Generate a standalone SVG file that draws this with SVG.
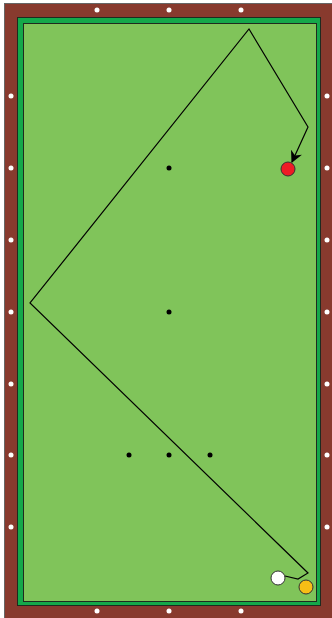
<svg xmlns="http://www.w3.org/2000/svg" width="332" height="618" viewBox="0 0 332 618">
<defs>
<style>
.rail{fill:#883a2e;stroke:#666;stroke-width:1}
.cushion{fill:#14a84a;stroke:#1f2a1f;stroke-width:1}
.felt{fill:#80c45a;stroke:#1f2a1f;stroke-width:1}
.diamond{fill:#fff}
.spot{fill:#000}
.path{fill:none;stroke:#000;stroke-width:1.2}
.ball{stroke:#333;stroke-width:1}
</style>
<marker id="arr" viewBox="0 0 10 10" refX="9" refY="5" markerWidth="12" markerHeight="12" markerUnits="userSpaceOnUse" orient="auto">
<path d="M0,0 L10,5 L0,10 L3,5 z" fill="#000"/>
</marker>
</defs>
<g id="table">
<rect class="rail" x="4.5" y="3.5" width="330" height="615"/>
<rect class="cushion" x="17.5" y="17.5" width="303" height="588"/>
<rect class="felt" x="23.5" y="23.5" width="293" height="578"/>
</g>
<g id="diamonds">
<circle class="diamond" cx="97" cy="10" r="2.5"/>
<circle class="diamond" cx="169" cy="10" r="2.5"/>
<circle class="diamond" cx="241" cy="10" r="2.5"/>
<circle class="diamond" cx="97" cy="611" r="2.5"/>
<circle class="diamond" cx="169" cy="611" r="2.5"/>
<circle class="diamond" cx="241" cy="611" r="2.5"/>
<circle class="diamond" cx="11" cy="96" r="2.5"/>
<circle class="diamond" cx="11" cy="168" r="2.5"/>
<circle class="diamond" cx="11" cy="240" r="2.5"/>
<circle class="diamond" cx="11" cy="312" r="2.5"/>
<circle class="diamond" cx="11" cy="384" r="2.5"/>
<circle class="diamond" cx="11" cy="455" r="2.5"/>
<circle class="diamond" cx="11" cy="527" r="2.5"/>
<circle class="diamond" cx="327" cy="96" r="2.5"/>
<circle class="diamond" cx="327" cy="168" r="2.5"/>
<circle class="diamond" cx="327" cy="240" r="2.5"/>
<circle class="diamond" cx="327" cy="312" r="2.5"/>
<circle class="diamond" cx="327" cy="384" r="2.5"/>
<circle class="diamond" cx="327" cy="455" r="2.5"/>
<circle class="diamond" cx="327" cy="527" r="2.5"/>
</g>
<g id="spots">
<circle class="spot" cx="169" cy="168" r="2.5"/>
<circle class="spot" cx="169" cy="312" r="2.5"/>
<circle class="spot" cx="129" cy="455" r="2.5"/>
<circle class="spot" cx="169" cy="455" r="2.5"/>
<circle class="spot" cx="210" cy="455" r="2.5"/>
</g>
<g id="connectors">
<polyline class="path" points="285,576 298,579 308,573 30,303 249,29 308,127 292,162" marker-end="url(#arr)"/>
</g>
<g id="ball-red"><circle class="ball" cx="288" cy="169" r="7" fill="#ee1c25"/></g>
<g id="ball-white"><circle class="ball" cx="278" cy="578" r="7" fill="#ffffff"/></g>
<g id="ball-yellow"><circle class="ball" cx="306" cy="587" r="7" fill="#f7be16"/></g>
</svg>
